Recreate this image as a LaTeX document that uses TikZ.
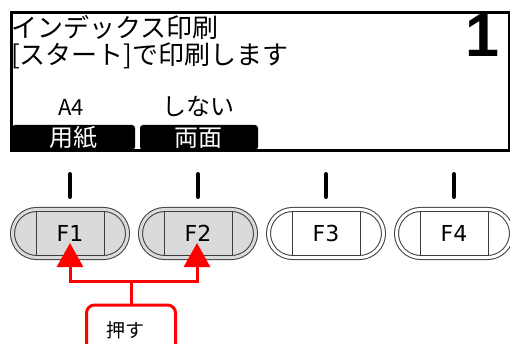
\documentclass[tikz,border=0pt]{standalone}
\usepackage{fontspec}
\newfontfamily\jpfont{Noto Sans CJK JP}
\newfontfamily\btnfont{DejaVu Sans}
\newfontfamily\numfont{Liberation Sans}
\usetikzlibrary{arrows.meta,positioning,calc}
\definecolor{callred}{RGB}{255,0,0}
\definecolor{keygray}{RGB}{218,218,218}
\definecolor{rimgray}{RGB}{60,60,60}

\begin{document}
\begin{tikzpicture}[
  x=1pt, y=-1pt,
  every node/.style={inner sep=0pt},
  lcdtext/.style={anchor=base west, font=\jpfont\fontsize{26}{30}\selectfont},
  tabtext/.style={text=white, font=\jpfont\fontsize{24}{28}\selectfont},
  valtext/.style={font=\jpfont\fontsize{24}{28}\selectfont},
  key/.style={draw=rimgray, line width=1pt, double=white,
              double distance=3pt, fill=white, minimum width=115pt,
              minimum height=48pt, rounded corners=24pt,
              font=\btnfont\fontsize{22}{26}\selectfont},
  pressed/.style={key, fill=keygray, double=keygray},
  divider/.style={draw=rimgray, line width=0.9pt},
  stem/.style={line width=4pt, line cap=round},
  callline/.style={draw=callred, line width=3pt},
  callarrow/.style={callline, -{Triangle[length=24pt,width=26pt]}},
]
\useasboundingbox (0,0) rectangle (510,344);

% display
\draw[line width=3pt] (11.5,12.5) rectangle (509,151);
\node[lcdtext] (title) at (11,38) {インデックス印刷};
\node[lcdtext] (hint) at (11,65) {[スタート]で印刷します};
\node[anchor=base east, font=\numfont\bfseries\fontsize{61}{64}\selectfont]
  (copies) at (500,57) {1};

% soft key tabs
\fill[rounded corners=3pt] (12,150) |- (135,125) -- (135,150) -- cycle;
\fill[rounded corners=3pt] (140,150) |- (258,125) -- (258,150) -- cycle;
\node[tabtext] (paper) at (73,138) {用紙};
\node[tabtext] (duplex) at (198,138) {両面};
\node[valtext, font=\jpfont\fontsize{22}{26}\selectfont] (paperval) at (71,107) {A4};
\node[valtext] (duplexval) at (198,106) {しない};

% function keys
\node[pressed] (f1) at (70,233.5) {F1};
\node[pressed] (f2) at (198,233.5) {F2};
\node[key] (f3) at (326,233.5) {F3};
\node[key] (f4) at (454,233.5) {F4};

\foreach \k in {f1,f2,f3,f4} {
  \draw[divider] ([xshift=-34pt,yshift=22pt]\k.center) -- ([xshift=-34pt,yshift=-22pt]\k.center);
  \draw[divider] ([xshift=34pt,yshift=22pt]\k.center) -- ([xshift=34pt,yshift=-22pt]\k.center);
  \draw[stem] ([yshift=35pt]\k.north) -- ([yshift=12pt]\k.north);
}

% callout
\node[callline, rounded corners=8pt, minimum width=89pt, minimum height=50pt,
      font=\jpfont\fontsize{19}{22}\selectfont]
  (push) at (131,330) {押す\hspace*{12pt}};
\coordinate (fork) at (131,281);
\coordinate (f1tip) at (70,243);
\coordinate (f2tip) at (197,243);
\draw[callline] (push.north) -- (fork);
\draw[callarrow] (fork) -| (f1tip);
\draw[callarrow] (fork) -| (f2tip);
\end{tikzpicture}
\end{document}
